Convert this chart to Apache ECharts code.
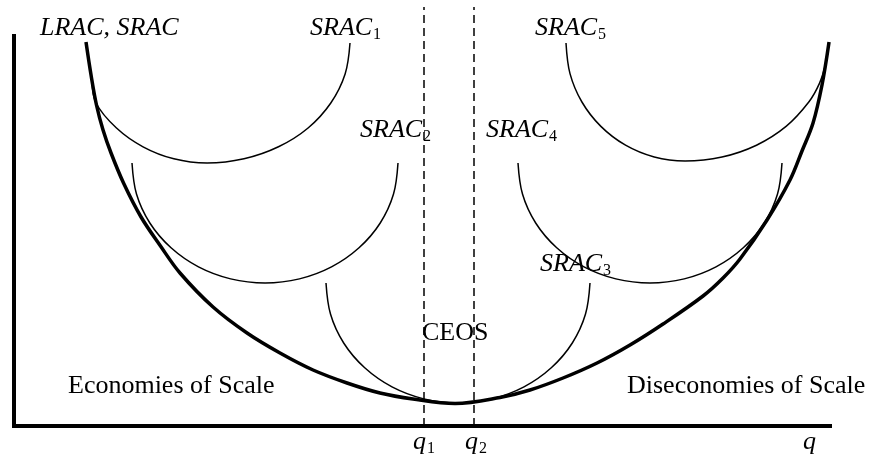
<!doctype html>
<html>
<head>
<meta charset="utf-8">
<script src="https://cdn.jsdelivr.net/npm/echarts@6/dist/echarts.min.js"></script>
<style>
  html, body { margin: 0; padding: 0; background: #fff; }
  #main { width: 873px; height: 458px; }
</style>
</head>
<body>
<div id="main"></div>
<script type="text/javascript">
    // quantity (q) and average cost
    var lracQ = [9, 9.63, 10.31, 11.13, 12.13, 13.69, 15.88, 18.31, 20.75, 24.88, 29.13, 33.25, 37.38, 41.63, 45.75, 49.88, 55.13, 60.75, 64.5, 68.63, 72.88, 77, 81.13, 86.13, 88.63, 90.75, 94.13, 97, 98.5, 99.88, 101, 101.88];
    var lracC = [96, 87.75, 80.25, 74, 68.25, 60.75, 52.25, 45, 38.25, 29.75, 23.25, 18.25, 14, 10.75, 8.25, 6.75, 5.63, 7.13, 9, 12, 15.75, 20.25, 25.5, 32.5, 37, 41.75, 51.5, 61.5, 68.75, 75.75, 85.25, 96];

    var srac1Q = [9.75, 10.25, 12.81, 16.13, 19.98, 24.13, 28.75, 33.06, 36.76, 39.6, 41.39, 42];
    var srac1C = [86.5, 80.75, 74.5, 69.8, 66.8, 65.75, 66.8, 69.8, 74.5, 80.75, 88, 95.75];

    var srac2Q = [14.75, 15.31, 16.98, 19.63, 23.06, 27.08, 31.38, 35.68, 39.69, 43.13, 45.78, 47.44, 48];
    var srac2C = [65.75, 57.98, 50.75, 44.55, 39.78, 36.78, 35.75, 36.78, 39.78, 44.55, 50.75, 57.98, 65.75];

    var srac3Q = [39, 39.56, 41.21, 43.84, 47.25, 51.23, 55.5, 59.78, 63.75, 67.16, 69.79, 71.44, 72];
    var srac3C = [35.75, 27.98, 20.75, 14.55, 9.78, 6.78, 5.75, 6.78, 9.78, 14.55, 20.75, 27.98, 35.75];

    var srac4Q = [63, 63.56, 65.21, 67.84, 71.25, 75.23, 79.5, 83.78, 87.75, 91.16, 93.79, 95.44, 96];
    var srac4C = [65.75, 57.98, 50.75, 44.55, 39.78, 36.78, 35.75, 36.78, 39.78, 44.55, 50.75, 57.98, 65.75];

    var srac5Q = [69, 69.5, 70.99, 73.36, 76.44, 80.03, 83.88, 88.5, 92.81, 96.51, 99.35, 100.68, 101.48];
    var srac5C = [95.75, 88.1, 81, 74.9, 70.2, 67.25, 66.25, 67.25, 70.2, 74.9, 81, 85.65, 90.63];

    // q1, q2 bound the constant-economies range
    var qMarks = [51.25, 57.5];
    var dashTop = 104.75;
    var tickLabels = ['q', 'q', 'q'];
    var tickSubs = ['1', '2', ''];

    function pts(xs, ys) {
        var out = [];
        for (var i = 0; i < xs.length; i++) out.push([xs[i], ys[i]]);
        return out;
    }

    var serif = '"Liberation Serif", "Times New Roman", serif';

    // x = left edge, baseline in px (middle alignment sits a bit above the baseline)
    function label(text, x, baseline, size, italic) {
        return {
            type: 'text',
            x: x,
            y: baseline - size * 0.27,
            silent: true,
            style: {
                text: text, fill: '#000', align: 'left', verticalAlign: 'middle',
                fontFamily: serif, fontSize: size, fontStyle: italic ? 'italic' : 'normal'
            }
        };
    }

    function srac(n, x, baseline) {
        return [label('SRAC', x, baseline, 26, true), label(n, x + 63, baseline + 4, 16, false)];
    }

    var thin = { color: '#000', width: 1.5 };
    function curve(xs, ys, style) {
        return {
            type: 'line', data: pts(xs, ys), smooth: 0.35, symbol: 'none',
            clip: false, lineStyle: style, silent: true
        };
    }

    var series = [
        curve(srac1Q, srac1C, thin),
        curve(srac2Q, srac2C, thin),
        curve(srac3Q, srac3C, thin),
        curve(srac4Q, srac4C, thin),
        curve(srac5Q, srac5C, thin),
        curve(lracQ, lracC, { color: '#000', width: 3.5 })
    ];
    qMarks.forEach(function (q) {
        series.push({
            type: 'line', data: [[q, 0], [q, dashTop]], symbol: 'none', clip: false, silent: true,
            lineStyle: { color: '#000', width: 1.5, type: [8, 5] }
        });
    });

    var texts = [label('LRAC, SRAC', 40, 35, 26, true)]
        .concat(srac('1', 310, 35))
        .concat(srac('5', 535, 35))
        .concat(srac('2', 360, 137))
        .concat(srac('4', 486, 137))
        .concat(srac('3', 540, 271))
        .concat([
            label('CEOS', 422, 340, 26, false),
            label('Economies of Scale', 68, 393, 26, false),
            label('Diseconomies of Scale', 627, 393, 26, false)
        ]);
    var tickX = [413, 465, 803];
    tickLabels.forEach(function (t, i) {
        texts.push(label(t, tickX[i], 449, 26, true));
        if (tickSubs[i]) texts.push(label(tickSubs[i], tickX[i] + 14, 453, 16, false));
    });

    var myChart = echarts.init(document.getElementById('main'));
    myChart.setOption({
        animation: false,
        backgroundColor: '#fff',
        grid: { left: 14, right: 43, top: 36, bottom: 32 },
        xAxis: {
            type: 'value', min: 0, max: 102,
            axisLine: { lineStyle: { color: '#000', width: 4, cap: 'square' } },
            axisTick: { show: false }, axisLabel: { show: false }, splitLine: { show: false }
        },
        yAxis: {
            type: 'value', min: 0, max: 97.5,
            axisLine: { lineStyle: { color: '#000', width: 4, cap: 'square' } },
            axisTick: { show: false }, axisLabel: { show: false }, splitLine: { show: false }
        },
        series: series,
        graphic: texts
    });
</script>
</body>
</html>
